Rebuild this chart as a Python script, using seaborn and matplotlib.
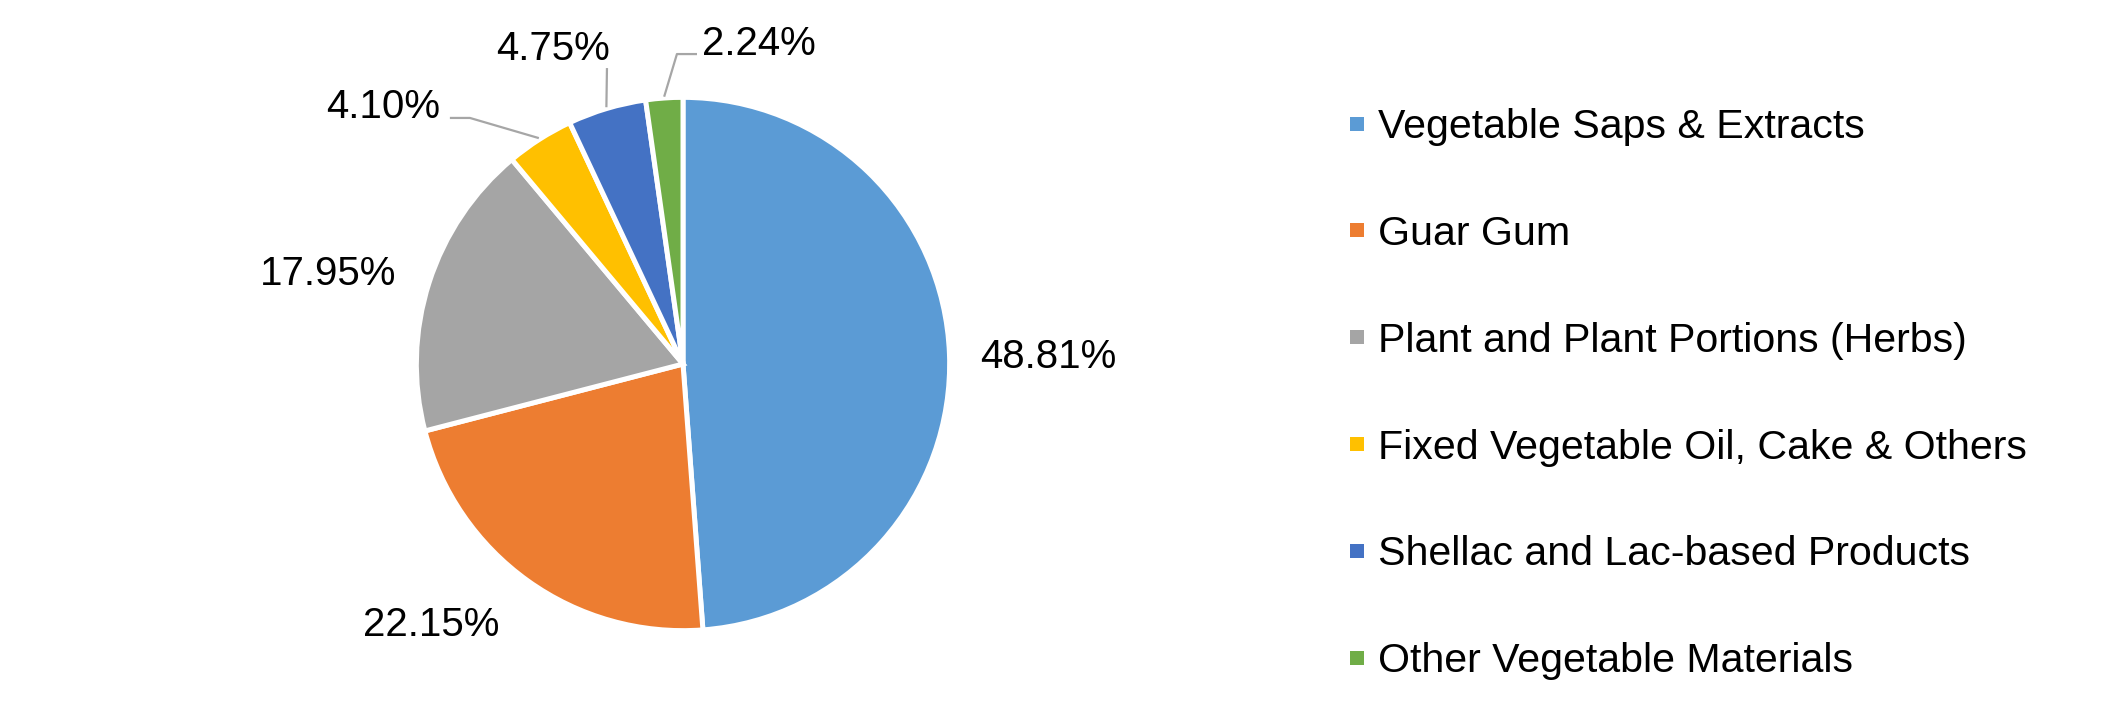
import numpy as np
import matplotlib
matplotlib.use('Agg')
import matplotlib.pyplot as plt
from matplotlib.lines import Line2D
import seaborn as sns

# ── data ────────────────────────────────────
categories = ['Vegetable Saps & Extracts', 'Guar Gum', 'Plant and Plant Portions (Herbs)',
              'Fixed Vegetable Oil, Cake & Others', 'Shellac and Lac-based Products',
              'Other Vegetable Materials']
shares = [48.81, 22.15, 17.95, 4.10, 4.75, 2.24]
pct_labels = ['48.81%', '22.15%', '17.95%', '4.10%', '4.75%', '2.24%']
colors = ['#5B9BD5', '#ED7D31', '#A5A5A5', '#FFC000', '#4472C4', '#70AD47']

# label anchors (pie radius = 1), baseline-centred
label_pos = [(1.384, -0.015), (-0.953, -1.030), (-1.343, 0.299),
             (-1.134, 0.932), (-0.492, 1.152), (0.286, 1.170)]
# leader line points from label side towards the wedge
leaders = [None, None, None,
           [(-0.883, 0.932), (-0.807, 0.932)],
           [(-0.288, 1.121)],
           [(0.053, 1.174), (-0.023, 1.174)]]

sns.set_style("white")
plt.rcParams['font.family'] = ['Liberation Sans', 'DejaVu Sans']
plt.rcParams['text.color'] = 'black'
plt.rcParams['legend.labelcolor'] = 'black'

W, H = 2111, 728
fig = plt.figure(figsize=(W / 100, H / 100), dpi=100)
fig.patch.set_facecolor('white')

# pie centre (683, 364) px, radius 264 px
cx, cy, r = 683, 364, 264
ax = fig.add_axes([(cx - r) / W, (H - cy - r) / H, 2 * r / W, 2 * r / H])
wedges, _ = ax.pie(shares, colors=colors, startangle=90, counterclock=False,
                   radius=1.01, wedgeprops=dict(edgecolor='white', linewidth=3.6))
ax.set_xlim(-1, 1)
ax.set_ylim(-1, 1)
ax.set_aspect('equal')
ax.axis('off')

for w, txt, (lx, ly), lead in zip(wedges, pct_labels, label_pos, leaders):
    ax.text(lx, ly, txt, ha='center', va='baseline', fontsize=29, color='black')
    if lead is not None:
        mid = np.deg2rad((w.theta1 + w.theta2) / 2)
        pts = list(lead) + [(1.015 * np.cos(mid), 1.015 * np.sin(mid))]
        xs, ys = zip(*pts)
        ax.plot(xs, ys, color='#A6A6A6', lw=1.6, clip_on=False, solid_capstyle='butt')

handles = [Line2D([], [], marker='s', linestyle='none', markersize=9.4,
                  markerfacecolor=c, markeredgewidth=0) for c in colors]
fig.legend(handles, categories, loc='upper left', bbox_to_anchor=(1350 / W, 1 - 108 / H),
           frameon=False, fontsize=29.6, handlelength=0.33, handletextpad=0.35,
           labelspacing=1.675, borderpad=0, borderaxespad=0, numpoints=1,
           labelcolor='black')

plt.savefig('out.png', dpi=100, facecolor='white')
plt.close()
